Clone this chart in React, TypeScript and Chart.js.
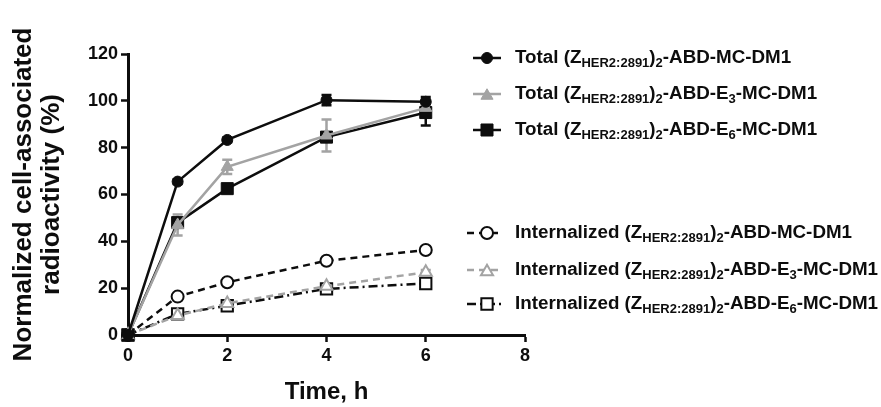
import React, { useEffect, useRef } from 'react';
import { Chart, registerables } from 'chart.js';

Chart.register(...registerables);

// ---- data ----
const timesH = [0, 1, 2, 4, 6];
const totalMC = [0, 65.5, 83.3, 100.3, 99.6];
const totalMCErr = [0, 1, 1, 2.2, 2];
const totalE3 = [0, 47, 71.8, 85.2, 97];
const totalE3Err = [0, 4.5, 3, 6.8, 1];
const totalE6 = [0, 48, 62.5, 84.5, 95];
const totalE6Err = [0, 1, 1, 2, 5.5];
const intMC = [0, 16.4, 22.5, 31.7, 36.3];
const intMCErr = [0, 1, 1, 1, 1];
const intE3 = [0, 8.3, 13.5, 20.8, 26.8];
const intE3Err = [0, 1, 1, 1, 1];
const intE6 = [0, 9, 12.5, 19.7, 22];
const intE6Err = [0, 1, 1, 1, 1];

const seriesLabels = [
  'Total (Z_{HER2:2891})_{2}-ABD-MC-DM1',
  'Total (Z_{HER2:2891})_{2}-ABD-E_{3}-MC-DM1',
  'Total (Z_{HER2:2891})_{2}-ABD-E_{6}-MC-DM1',
  'Internalized (Z_{HER2:2891})_{2}-ABD-MC-DM1',
  'Internalized (Z_{HER2:2891})_{2}-ABD-E_{3}-MC-DM1',
  'Internalized (Z_{HER2:2891})_{2}-ABD-E_{6}-MC-DM1',
];
const xTitle = 'Time, h';
const yTitle = ['Normalized cell-associated', 'radioactivity (%)'];
const xRange = [0, 8];
const xStep = 2;
const yRange = [0, 120];
const yStep = 20;

// ---- styles ----
const BLACK = '#0d0d0d';
const GREY = '#a3a3a3';
const FONT = "'Liberation Sans', Arial, sans-serif";
const legendBaselines = [63, 99, 135, 238, 275, 309];
const legendLineStart = [473, 473, 473, 467, 467, 467];

function pts(arr: number[]) {
  return timesH.map((t, i) => ({ x: t, y: arr[i] }));
}

function drawMarker(ctx: CanvasRenderingContext2D, style: string, x: number, y: number, r: number, fill: string, stroke: string, lw: number) {
  ctx.save();
  ctx.beginPath();
  if (style === 'circle') {
    ctx.arc(x, y, r, 0, Math.PI * 2);
  } else if (style === 'rect') {
    const s = Math.SQRT1_2 * r;
    ctx.rect(x - s, y - s, 2 * s, 2 * s);
  } else if (style === 'triangle') {
    for (let k = 0; k < 3; k++) {
      const a = -Math.PI / 2 + (k * 2 * Math.PI) / 3;
      const px = x + Math.cos(a) * r;
      const py = y + Math.sin(a) * r + r * 0.25;
      if (k === 0) ctx.moveTo(px, py);
      else ctx.lineTo(px, py);
    }
    ctx.closePath();
  }
  ctx.fillStyle = fill;
  ctx.fill();
  ctx.lineWidth = lw;
  ctx.strokeStyle = stroke;
  ctx.stroke();
  ctx.restore();
}

function drawRichText(ctx: CanvasRenderingContext2D, text: string, x: number, baseline: number) {
  const parts: { t: string; sub: boolean }[] = [];
  const re = /_\{([^}]*)\}/g;
  let last = 0;
  let m: RegExpExecArray | null;
  while ((m = re.exec(text))) {
    if (m.index > last) parts.push({ t: text.slice(last, m.index), sub: false });
    parts.push({ t: m[1], sub: true });
    last = m.index + m[0].length;
  }
  if (last < text.length) parts.push({ t: text.slice(last), sub: false });
  let cx = x;
  ctx.save();
  ctx.fillStyle = BLACK;
  ctx.textBaseline = 'alphabetic';
  ctx.textAlign = 'left';
  for (const p of parts) {
    ctx.font = p.sub ? `bold 13px ${FONT}` : `bold 18.8px ${FONT}`;
    ctx.fillText(p.t, cx, p.sub ? baseline + 4 : baseline);
    cx += ctx.measureText(p.t).width;
  }
  ctx.restore();
}

const errorBarPlugin = {
  id: 'errorBars',
  beforeDatasetsDraw(chart: any) {
    const ctx = chart.ctx;
    const yScale = chart.scales.y;
    chart.data.datasets.forEach((ds: any, i: number) => {
      if (!ds.errors) return;
      const meta = chart.getDatasetMeta(i);
      meta.data.forEach((el: any, j: number) => {
        const e = ds.errors[j];
        if (!e) return;
        const v = ds.data[j].y;
        const yTop = yScale.getPixelForValue(v + e);
        const yBot = yScale.getPixelForValue(v - e);
        ctx.save();
        ctx.strokeStyle = ds.borderColor;
        ctx.lineWidth = 2.5;
        ctx.beginPath();
        ctx.moveTo(el.x, yTop);
        ctx.lineTo(el.x, yBot);
        ctx.moveTo(el.x - 5, yTop);
        ctx.lineTo(el.x + 5, yTop);
        ctx.moveTo(el.x - 5, yBot);
        ctx.lineTo(el.x + 5, yBot);
        ctx.stroke();
        ctx.restore();
      });
    });
  },
};

const legendPlugin = {
  id: 'customLegend',
  afterDraw(chart: any) {
    const ctx = chart.ctx;
    chart.data.datasets.forEach((ds: any, i: number) => {
      const base = legendBaselines[i];
      const my = base - 5;
      const x0 = legendLineStart[i], x1 = 501, mx = 487;
      ctx.save();
      ctx.strokeStyle = ds.borderColor;
      ctx.lineWidth = ds.borderWidth;
      ctx.setLineDash(ds.borderDash || []);
      ctx.beginPath();
      ctx.moveTo(x0, my);
      ctx.lineTo(x1, my);
      ctx.stroke();
      ctx.restore();
      drawMarker(ctx, ds.pointStyle, mx, my, ds.pointRadius, ds.pointBackgroundColor, ds.pointBorderColor, ds.pointBorderWidth);
      drawRichText(ctx, seriesLabels[i], 515, base);
    });
  },
};

function makeDataset(label: string, data: number[], errors: number[], color: string, style: string, radius: number, open: boolean, dash: number[]) {
  return {
    label,
    data: pts(data),
    errors,
    borderColor: color,
    backgroundColor: color,
    borderWidth: 2.5,
    borderDash: dash,
    pointStyle: style,
    pointRadius: radius,
    pointHoverRadius: radius,
    pointBackgroundColor: open ? '#ffffff' : color,
    pointBorderColor: color,
    pointBorderWidth: open ? 2 : 1,
    tension: 0,
    clip: false,
  };
}

export default function App() {
  const ref = useRef<HTMLCanvasElement>(null);
  useEffect(() => {
    document.body.style.margin = '0';
    if (!ref.current) return;
    const chart = new Chart(ref.current, {
      type: 'line',
      data: {
        datasets: [
          makeDataset(seriesLabels[0], totalMC, totalMCErr, BLACK, 'circle', 5.5, false, []),
          makeDataset(seriesLabels[1], totalE3, totalE3Err, GREY, 'triangle', 7, false, []),
          makeDataset(seriesLabels[2], totalE6, totalE6Err, BLACK, 'rect', 8.5, false, []),
          makeDataset(seriesLabels[3], intMC, intMCErr, BLACK, 'circle', 6, true, [7, 5]),
          makeDataset(seriesLabels[4], intE3, intE3Err, GREY, 'triangle', 7, true, [7, 5]),
          makeDataset(seriesLabels[5], intE6, intE6Err, BLACK, 'rect', 8, true, [9, 4, 2, 4]),
        ] as any,
      },
      options: {
        responsive: false,
        animation: false,
        devicePixelRatio: 1,
        layout: { padding: { left: 0, right: 356, top: 54, bottom: 0 } },
        plugins: { legend: { display: false }, tooltip: { enabled: false } },
        scales: {
          x: {
            type: 'linear',
            min: xRange[0],
            max: xRange[1],
            afterFit: (s: any) => { s.height = 72; },
            ticks: { stepSize: xStep, color: BLACK, padding: 3, font: { family: FONT, size: 18, weight: 'bold' } },
            grid: { drawOnChartArea: false, drawTicks: true, tickLength: 7, tickWidth: 2.5, color: BLACK },
            border: { display: true, color: BLACK, width: 3 },
            title: { display: true, text: xTitle, color: BLACK, padding: { top: 0, bottom: 3 }, font: { family: FONT, size: 24, weight: 'bold', lineHeight: 1 } },
          },
          y: {
            type: 'linear',
            min: yRange[0],
            max: yRange[1],
            afterFit: (s: any) => { s.width = 128; },
            ticks: { stepSize: yStep, color: BLACK, padding: 3, font: { family: FONT, size: 18, weight: 'bold' } },
            grid: { drawOnChartArea: false, drawTicks: true, tickLength: 7, tickWidth: 2.5, color: BLACK },
            border: { display: true, color: BLACK, width: 3 },
            title: { display: true, text: yTitle, color: BLACK, padding: { top: 10, bottom: 0 }, font: { family: FONT, size: 26, weight: 'bold', lineHeight: 1.08 } },
          },
        },
      } as any,
      plugins: [errorBarPlugin, legendPlugin],
    });
    return () => chart.destroy();
  }, []);
  return (
    <div style={{ width: 881, height: 407, background: '#fff' }}>
      <canvas ref={ref} width={881} height={407} style={{ display: 'block' }} />
    </div>
  );
}
